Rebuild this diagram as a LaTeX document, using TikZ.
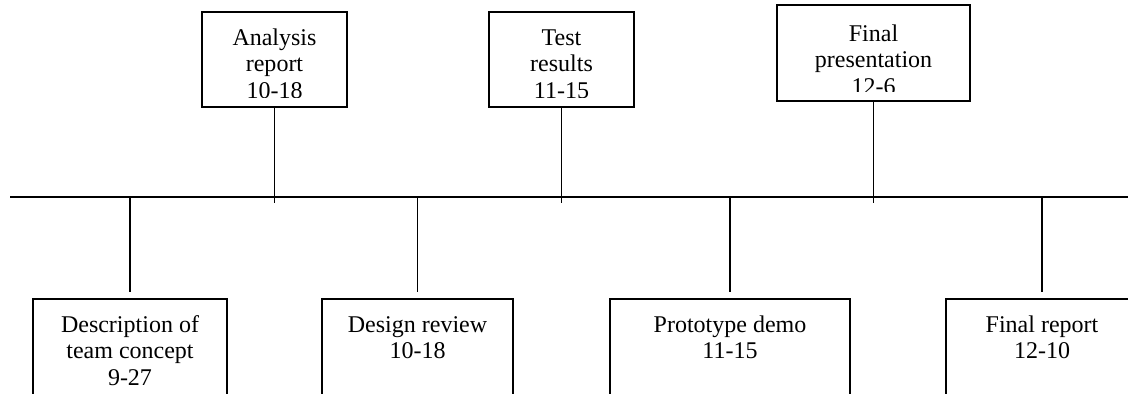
\documentclass[tikz,border=0pt]{standalone}
\usepackage{fontspec}
\setmainfont{Liberation Serif}
\tikzset{
  msbox/.style={draw, line width=0.9pt, inner sep=0pt},
  mstext/.style={align=center, font=\fontsize{12}{13.25}\selectfont, anchor=base, inner sep=0pt},
}
\begin{document}
\begin{tikzpicture}[x=0.5pt,y=-0.5pt,line width=0.9pt]
  \useasboundingbox (0,0) rectangle (1128,393);
  \clip (0,0) rectangle (1128,393);
  % time line
  \coordinate (tlstart) at (10,197);
  \coordinate (tlend) at (1140,197);
  \draw (tlstart) -- (tlend);
  % milestones above the line (text cut by the box margin)
  \foreach \x/\w/\t/\b/\bl/\txt [count=\i] in {274.5/145/12/107/98/{Analysis\\report\\10-18},
      561.5/145/12/107/98/{Test\\results\\11-15},
      873.5/193/5/101/94/{Final\\presentation\\12-6}}{
    \node[msbox, minimum width=\w*0.5pt, minimum height=(\b-\t)*0.5pt] (up\i) at (\x,{(\t+\b)/2}) {};
    \begin{scope}
      \clip (\x-\w/2,\b-10) rectangle (\x+\w/2,\t);
      \node[mstext] (uptxt\i) at (\x,\bl) {\txt};
    \end{scope}
    \coordinate (tick\i) at (\x,203);
    \draw (up\i.south) -- (tick\i);
  }
  % milestones below the line
  \foreach \x/\w/\bl/\txt [count=\i] in {130/194/385/{Description of\\team concept\\9-27},
      417.5/191/358.5/{Design review\\10-18},
      730/240/358.5/{Prototype demo\\11-15},
      1042/192/358.5/{Final report\\12-10}}{
    \node[msbox, minimum width=\w*0.5pt, minimum height=60pt] (dn\i) at (\x,359) {};
    \node[mstext] (dntxt\i) at (\x,\bl) {\txt};
    \coordinate (root\i) at (\x,197);
    \draw[shorten >=3pt] (root\i) -- (dn\i.north);
  }
\end{tikzpicture}
\end{document}
